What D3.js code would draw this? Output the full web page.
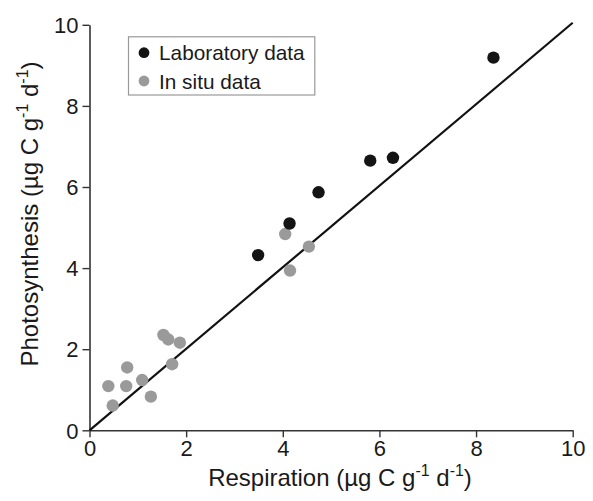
<!DOCTYPE html>
<html>
<head>
<meta charset="utf-8">
<script src="https://cdn.jsdelivr.net/npm/d3@7"></script>
<style>
  html, body { margin: 0; padding: 0; background: #fff; }
  svg text { font-family: "Liberation Sans", Arial, Helvetica, sans-serif; fill: #1a1a1a; }
</style>
</head>
<body>
<svg id="chart" width="593" height="501"></svg>
<script>
// Laboratory measurements (respiration, photosynthesis)
const labResp  = [3.49, 4.14, 4.74, 5.81, 6.28, 8.36];
const labPhoto = [4.32, 5.10, 5.87, 6.65, 6.72, 9.19];

// In situ measurements
const situResp  = [0.39, 0.48, 0.76, 0.78, 1.09, 1.27, 1.53, 1.63, 1.71, 1.87, 4.05, 4.15, 4.54];
const situPhoto = [1.09, 0.61, 1.09, 1.55, 1.24, 0.83, 2.35, 2.24, 1.63, 2.16, 4.84, 3.94, 4.53];

// Fitted line end points
const fitX = [0, 10];
const fitY = [0, 10.05];

const xTicks = [0, 2, 4, 6, 8, 10];
const yTicks = [0, 2, 4, 6, 8, 10];

const legendLabels = ["Laboratory data", "In situ data"];
const colors = ["#141414", "#9a9a9a"];

const svg = d3.select("#chart");
const x = d3.scaleLinear().domain([0, 10]).range([89.5, 572.7]);
const y = d3.scaleLinear().domain([0, 10]).range([430.3, 24.8]);

const tickFont = 22;
const titleFont = 24;

// x axis
const gx = svg.append("g").attr("transform", `translate(0,${y(0)})`)
  .call(d3.axisBottom(x).tickValues(xTicks).tickSize(7).tickSizeOuter(0).tickPadding(3));
// y axis
const gy = svg.append("g").attr("transform", `translate(${x(0)},0)`)
  .call(d3.axisLeft(y).tickValues(yTicks).tickSize(7).tickSizeOuter(0).tickPadding(4));

[gx, gy].forEach(g => {
  g.select(".domain").attr("stroke", "#333").attr("stroke-width", 1.6);
  g.selectAll(".tick line").attr("stroke", "#333").attr("stroke-width", 1.4);
  g.selectAll(".tick text").attr("font-size", tickFont)
    .attr("font-family", "Liberation Sans, Arial, sans-serif").attr("fill", "#1a1a1a");
});
gy.selectAll(".tick text").attr("dy", "0.35em");

// fitted line
svg.append("line")
  .attr("x1", x(fitX[0])).attr("y1", y(fitY[0]))
  .attr("x2", x(fitX[1])).attr("y2", y(fitY[1]))
  .attr("stroke", "#111").attr("stroke-width", 2.2);

const r = 6.2;
// in situ points
svg.append("g").selectAll("circle")
  .data(situResp.map((v, i) => [v, situPhoto[i]]))
  .join("circle")
  .attr("cx", d => x(d[0])).attr("cy", d => y(d[1])).attr("r", r)
  .attr("fill", colors[1]);
// laboratory points
svg.append("g").selectAll("circle")
  .data(labResp.map((v, i) => [v, labPhoto[i]]))
  .join("circle")
  .attr("cx", d => x(d[0])).attr("cy", d => y(d[1])).attr("r", r)
  .attr("fill", colors[0]);

// legend
const lg = svg.append("g");
lg.append("rect").attr("x", 128.5).attr("y", 36.8).attr("width", 186.3).attr("height", 58.2)
  .attr("fill", "#fff").attr("stroke", "#999").attr("stroke-width", 1.2);
legendLabels.forEach((lab, i) => {
  const cy = 52.7 + i * 28.3;
  lg.append("circle").attr("cx", 144).attr("cy", cy).attr("r", 5.4).attr("fill", colors[i]);
  lg.append("text").attr("x", 159).attr("y", cy + 7.5).attr("font-size", 20.8).text(lab);
});

// axis titles with superscripts
function unitTitle(sel, name) {
  const supSize = 16;
  sel.append("tspan").text(name + " (µg C g");
  sel.append("tspan").attr("font-size", supSize).attr("dy", -10).text("-1");
  sel.append("tspan").attr("dy", 10).text(" d");
  sel.append("tspan").attr("font-size", supSize).attr("dy", -10).text("-1");
  sel.append("tspan").attr("dy", 10).text(")");
}

const xt = svg.append("text").attr("x", 340).attr("y", 486)
  .attr("text-anchor", "middle").attr("font-size", titleFont);
unitTitle(xt, "Respiration");

const yt = svg.append("text")
  .attr("transform", "translate(38,214) rotate(-90)")
  .attr("text-anchor", "middle").attr("font-size", titleFont);
unitTitle(yt, "Photosynthesis");
</script>
</body>
</html>
